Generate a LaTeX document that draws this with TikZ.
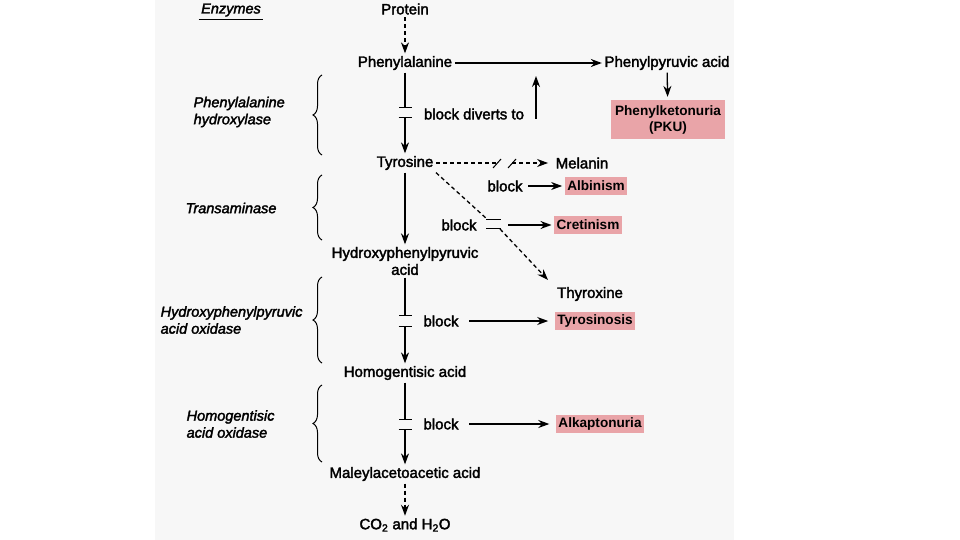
\documentclass[tikz,border=0pt]{standalone}
\usepackage{fontspec}
\setmainfont{Liberation Sans}
\newfontfamily\medfont[FakeBold=2.2]{Liberation Sans}
\usetikzlibrary{arrows.meta,decorations.pathreplacing}
\definecolor{pinkbox}{RGB}{233,164,168}
\definecolor{panel}{RGB}{247,247,247}

\begin{document}
\begin{tikzpicture}[x=1pt, y=-1pt, line width=1.3pt,
  >={Stealth[length=11pt,width=8pt]},
  txt/.style={font=\medfont\fontsize{15}{17}\selectfont, inner sep=2pt, align=center},
  enz/.style={font=\medfont\itshape\fontsize{14.5}{17}\selectfont, inner sep=0pt, align=left, anchor=west},
  dis/.style={fill=pinkbox, font=\bfseries\fontsize{13.6}{16}\selectfont, inner xsep=2.5pt, inner ysep=0pt, minimum height=18pt, align=center},
  dsh/.style={dash pattern=on 4pt off 3pt},
  brc/.style={decorate, decoration={brace, amplitude=9pt}, line width=1pt}]
\useasboundingbox (0,0) rectangle (960,540);
\fill [panel] (155,0) rectangle (734,540);

% enzymes column
\node [txt, font=\medfont\itshape\fontsize{14.5}{17}\selectfont] (enz) at (231,10) {Enzymes};
\draw [line width=0.9pt] (enz.south west) -- (enz.south east);
\node [enz] (hyd) at (193,112) {Phenylalanine\\hydroxylase};
\node [enz] (tra) at (185,208) {Transaminase};
\node [enz] (hox) at (160,320) {Hydroxyphenylpyruvic\\acid oxidase};
\node [enz] (hgo) at (186,424) {Homogentisic\\acid oxidase};
\draw [brc] (322,155) -- (322,75);
\draw [brc] (322,240) -- (322,175);
\draw [brc] (322,363) -- (322,277);
\draw [brc] (322,462) -- (322,385);

% main pathway
\node [txt] (prot) at (405,9) {Protein};
\node [txt] (phe) at (405,63) {Phenylalanine};
\node [txt] (tyr) at (405,163) {Tyrosine};
\node [txt] (hpp) at (405,261) {Hydroxyphenylpyruvic\\acid};
\node [txt] (hga) at (405,373) {Homogentisic acid};
\node [txt] (maa) at (405,474) {Maleylacetoacetic acid};
\node [txt] (co) at (405,525) {CO\textsubscript{2} and H\textsubscript{2}O};

\coordinate (b1a) at (405,108);
\coordinate (b1b) at (405,117);
\coordinate (b2a) at (405,316);
\coordinate (b2b) at (405,326);
\coordinate (b3a) at (405,420);
\coordinate (b3b) at (405,429);

\draw [dsh, ->] (prot) -- (phe);
\draw [-{Bar[width=13pt]}] (phe) -- (b1a);
\draw [{Bar[width=13pt]}->] (b1b) -- (tyr);
\draw [->] (tyr) -- (hpp);
\draw [-{Bar[width=13pt]}] (hpp) -- (b2a);
\draw [{Bar[width=13pt]}->] (b2b) -- (hga);
\draw [-{Bar[width=13pt]}] (hga) -- (b3a);
\draw [{Bar[width=13pt]}->] (b3b) -- (maa);
\draw [dsh, ->] (maa) -- (co);

% phenylketonuria branch
\node [txt] (ppa) at (667,63) {Phenylpyruvic acid};
\node [dis, minimum width=114pt, minimum height=39pt] (pku) at (668,120) {Phenylketonuria\\(PKU)};
\node [txt] (div) at (474,114) {block diverts to};
\coordinate (up0) at (536,119);
\coordinate (up1) at (536,76);
\draw [->] (phe) -- (ppa);
\draw [->, shorten >=3pt] (ppa) -- (pku);
\draw [->] (up0) -- (up1);

% melanin and albinism
\node [txt] (mel) at (582,163) {Melanin};
\node [txt] (blka) at (505,186) {block};
\node [dis] (alb) at (596,186) {Albinism};
\coordinate (m1) at (497,163);
\coordinate (m2) at (512,163);
\draw [dsh] (tyr) -- (m1);
\draw [line width=1pt] (m1) ++(-4,5) -- ++(8,-9);
\draw [line width=1pt] (m2) ++(-4,5) -- ++(8,-9);
\draw [dsh, ->, shorten >=5pt] (m2) -- (mel);
\draw [->, shorten <=3pt, shorten >=2pt] (blka) -- (alb);

% thyroxine and cretinism
\node [txt] (thy) at (590,294) {Thyroxine};
\node [txt] (blkc) at (459,225) {block};
\node [dis] (cre) at (588,225) {Cretinism};
\coordinate (c1) at (487,219);
\coordinate (c2) at (500,229);
\coordinate (thyin) at (548,280);
\coordinate (cr0) at (508,225);
\draw [dsh] (tyr.south east) -- (c1);
\draw [line width=1pt] (486,219) -- (501,219);
\draw [line width=1pt] (486,228) -- (501,228);
\draw [dsh, ->] (c2) -- (thyin);
\draw [->, shorten >=2pt] (cr0) -- (cre);

% tyrosinosis and alkaptonuria
\node [txt] (blkt) at (441,321) {block};
\node [dis] (tys) at (595,321) {Tyrosinosis};
\node [txt] (blkk) at (441,424) {block};
\node [dis] (alk) at (600,424) {Alkaptonuria};
\draw [->, shorten <=8pt, shorten >=6pt] (blkt) -- (tys);
\draw [->, shorten <=8pt, shorten >=6pt] (blkk) -- (alk);
\end{tikzpicture}
\end{document}
